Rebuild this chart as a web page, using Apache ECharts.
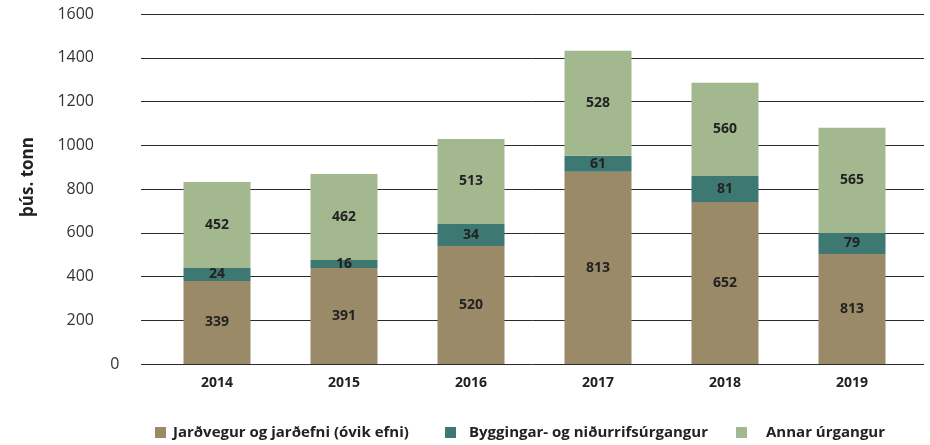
<!DOCTYPE html>
<html>
<head>
<meta charset="utf-8">
<script src="https://cdn.jsdelivr.net/npm/echarts@6/dist/echarts.min.js"></script>
<style>html,body{margin:0;padding:0;background:#fff}#c{width:930px;height:445px}</style>
</head>
<body>
<div id="c"></div>
<script>
const years = ['2014', '2015', '2016', '2017', '2018', '2019'];
const seriesNames = ['Jarðvegur og jarðefni (óvik efni)', 'Byggingar- og niðurrifsúrgangur', 'Annar úrgangur'];
// bar heights as drawn in the picture
const soil = [380, 439, 540, 879, 741, 503];
const construction = [59, 37, 100, 73, 119, 96];
const other = [393, 393, 389, 480, 426, 481];
// numbers printed on the bars
const soilLabels = ['339', '391', '520', '813', '652', '813'];
const constructionLabels = ['24', '16', '34', '61', '81', '79'];
const otherLabels = ['452', '462', '513', '528', '560', '565'];
const yAxisName = 'þús. tonn';

const FONT = '"Open Sans", sans-serif';
const colors = ['#9a8a67', '#3e7872', '#a4b890'];

function lbl(arr) {
  return {
    show: true, position: 'inside', color: '#222', fontFamily: FONT,
    fontWeight: 'bold', fontSize: 14,
    formatter: p => arr[p.dataIndex]
  };
}

function legend(i, left, pad) {
  return {
    data: [seriesNames[i]], left: left, top: 425, padding: 0, icon: 'rect',
    itemWidth: 11, itemHeight: 11, selectedMode: false,
    textStyle: { fontFamily: FONT, fontWeight: 'bold', fontSize: 15, color: '#222', padding: [0, 0, 0, pad] }
  };
}

const chart = echarts.init(document.getElementById('c'));
chart.setOption({
  animation: false,
  grid: [
    { left: 141, right: 6, top: 14, bottom: 81 },
    { left: 153.5, right: 14.5, top: 14, bottom: 81 }
  ],
  legend: [legend(0, 155, 2), legend(1, 445, 8), legend(2, 736, 14)],
  xAxis: [
    { gridIndex: 0, type: 'category', data: years, show: false },
    {
      gridIndex: 1, type: 'category', data: years,
      axisLine: { show: false }, axisTick: { show: false },
      axisLabel: { margin: 12, fontFamily: FONT, fontWeight: 'bold', fontSize: 14, color: '#222' }
    }
  ],
  yAxis: [
    {
      gridIndex: 0, type: 'value', min: 0, max: 1600, interval: 200,
      name: yAxisName, nameLocation: 'middle', nameGap: 104,
      nameTextStyle: { fontFamily: FONT, fontWeight: 'bold', fontSize: 17, color: '#222', padding: [0, 0, 0, 24] },
      axisLine: { show: false }, axisTick: { show: false },
      axisLabel: {
        margin: 47, fontFamily: FONT, fontSize: 16, color: '#333',
        formatter: v => (v === 0 ? '' : String(v))
      },
      splitLine: { lineStyle: { color: '#2a2a2a', width: 1 } }
    },
    {
      gridIndex: 1, type: 'value', min: 0, max: 1600, interval: 200,
      axisLine: { show: false }, axisTick: { show: false }, splitLine: { show: false },
      axisLabel: {
        margin: 34, fontFamily: FONT, fontSize: 16, color: '#333',
        formatter: v => (v === 0 ? '0' : '')
      }
    }
  ],
  series: [
    { name: seriesNames[0], type: 'bar', stack: 't', xAxisIndex: 1, yAxisIndex: 1, barWidth: 67, data: soil, itemStyle: { color: colors[0] }, label: lbl(soilLabels) },
    { name: seriesNames[1], type: 'bar', stack: 't', xAxisIndex: 1, yAxisIndex: 1, barWidth: 67, data: construction, itemStyle: { color: colors[1] }, label: lbl(constructionLabels) },
    { name: seriesNames[2], type: 'bar', stack: 't', xAxisIndex: 1, yAxisIndex: 1, barWidth: 67, data: other, itemStyle: { color: colors[2] }, label: lbl(otherLabels) }
  ]
});
</script>
</body>
</html>
